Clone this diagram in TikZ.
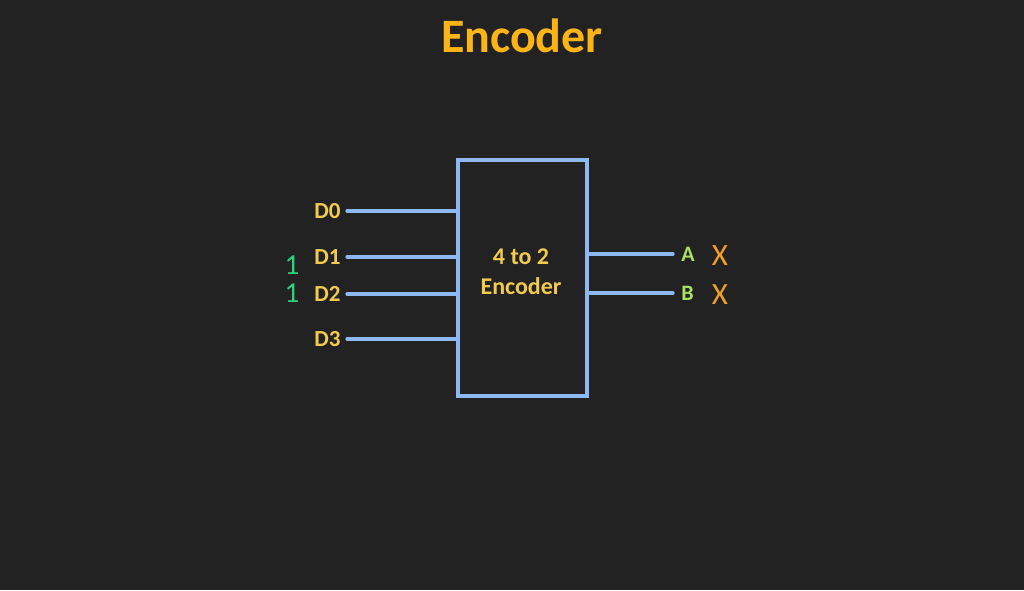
\documentclass[tikz,border=0pt]{standalone}
\usepackage{fontspec}
\setmainfont{Carlito}
\definecolor{bgdark}{HTML}{222222}
\definecolor{wireblue}{HTML}{8DB8F2}
\definecolor{labelyellow}{HTML}{F2CB4E}
\definecolor{titleorange}{HTML}{FDB515}
\definecolor{onegreen}{HTML}{2FD27C}
\definecolor{outgreen}{HTML}{A9E163}
\definecolor{xorange}{HTML}{F0A024}
\tikzset{
  wire/.style={draw=wireblue, line width=1.6pt, line cap=round},
  inlabel/.style={anchor=east, inner sep=3pt, text=labelyellow, font=\bfseries\fontsize{11.5}{13}\selectfont},
  outlabel/.style={anchor=west, inner sep=4pt, text=outgreen, font=\bfseries\fontsize{11}{13}\selectfont},
  bitone/.style={text=onegreen, font=\fontsize{14.5}{16}\selectfont},
  bitx/.style={text=xorange, font=\fontsize{15.5}{17}\selectfont}
}
\begin{document}
\begin{tikzpicture}[x=0.5pt, y=-0.5pt]
      \fill[bgdark] (0,0) rectangle (1024,590);
      \useasboundingbox (0,0) rectangle (1024,590);
      \node[text=titleorange, font=\bfseries\fontsize{24}{28}\selectfont] (title) at (522,36) {Encoder};
      \node[wire, rectangle, minimum width=64.5pt, minimum height=118pt, inner sep=0pt]
        (enc) at (522.5,278) {};
      \node[align=center, text=labelyellow, font=\bfseries\fontsize{12}{15}\selectfont]
        (enctext) at (521,272) {4 to 2\\Encoder};
      \draw
        (347,211) node[inlabel] (d0){D0}
        (347,257) node[inlabel] (d1){D1}
        (347,294) node[inlabel] (d2){D2}
        (347,339) node[inlabel] (d3){D3}
        (673,254) node[outlabel] (a){A}
        (673,293) node[outlabel] (b){B};
      \draw
        (292,265) node[bitone] (one1){1}
        (292,293) node[bitone] (one2){1}
        (720,256) node[bitx] (xa){X}
        (720,295) node[bitx] (xb){X};
      \begin{scope}[wire]
        \draw (d0.east) to (d0.east -| enc.west);
        \draw (d1.east) to (d1.east -| enc.west);
        \draw (d2.east) to (d2.east -| enc.west);
        \draw (d3.east) to (d3.east -| enc.west);
        \draw (a.west -| enc.east) to (a.west);
        \draw (b.west -| enc.east) to (b.west);
      \end{scope}
    \end{tikzpicture}
\end{document}
